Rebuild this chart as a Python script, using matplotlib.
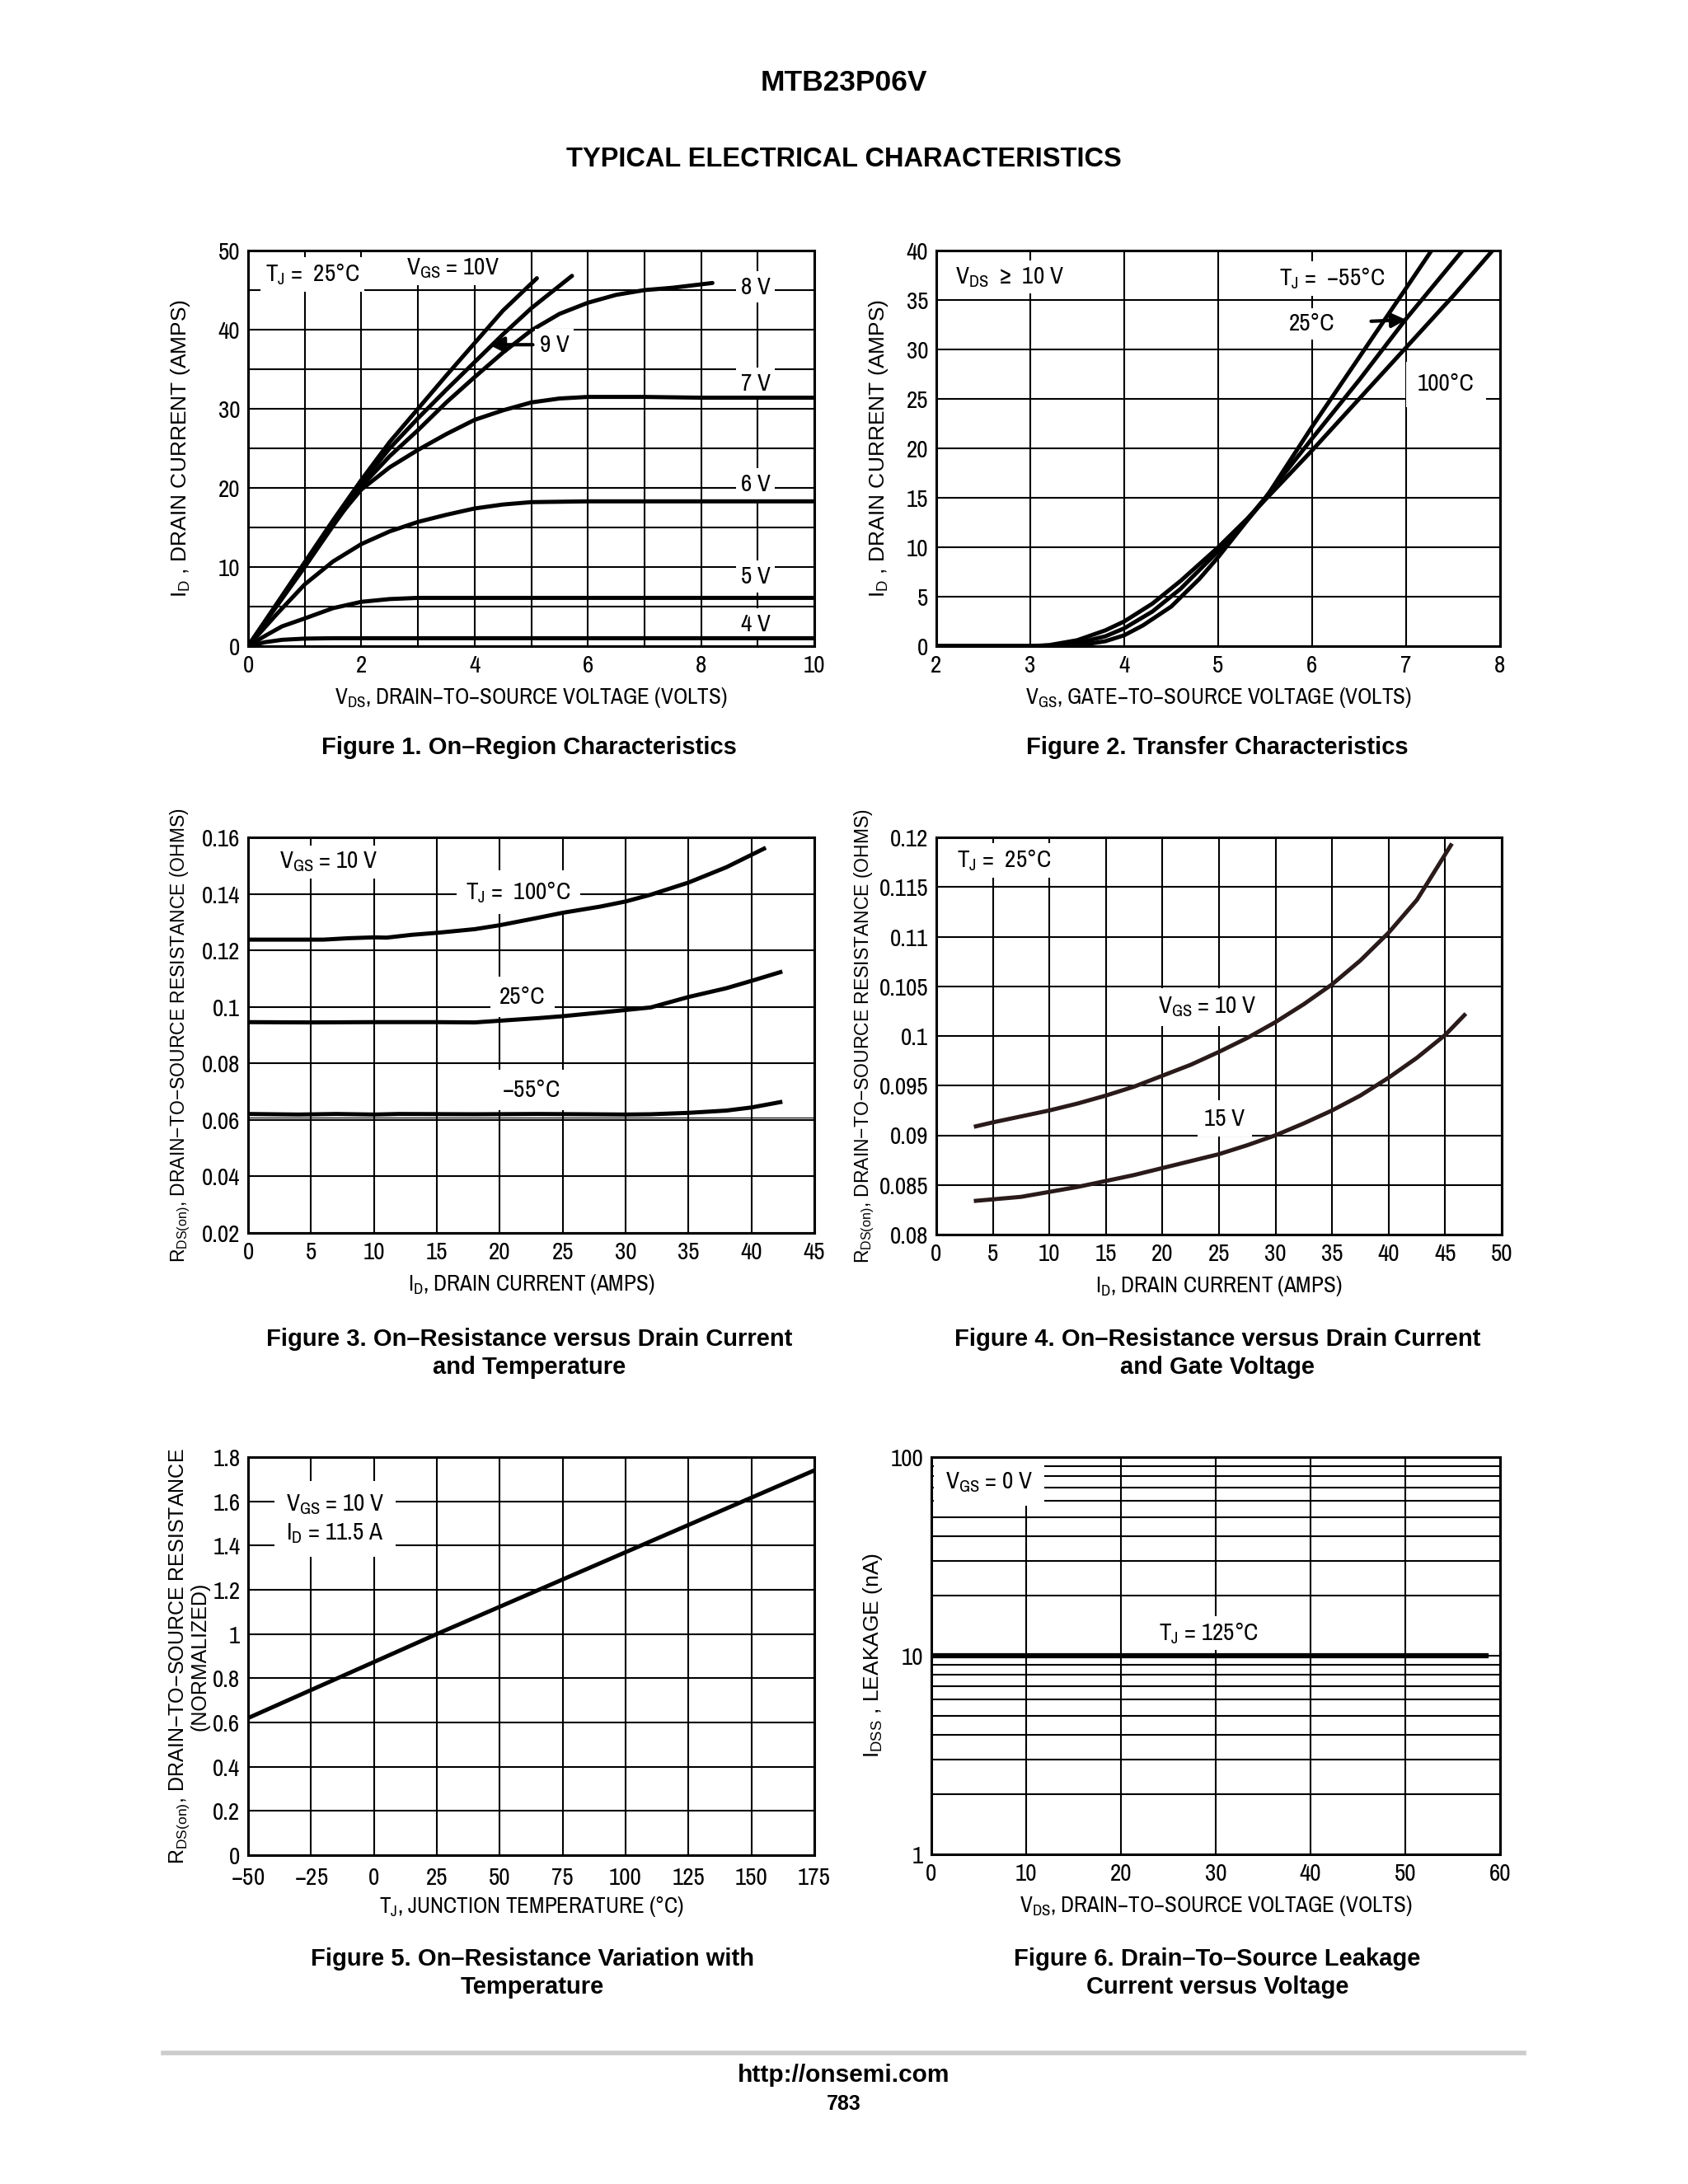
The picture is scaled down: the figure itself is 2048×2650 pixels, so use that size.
import numpy as np
import matplotlib
matplotlib.use("Agg")
import matplotlib.pyplot as plt

# ---- Figure 1: on-region characteristics (VDS vs ID per VGS)
vds_10 = [0, 0.5, 1, 1.5, 2, 2.5, 3, 3.5, 4, 4.5, 5.1]
id_10 = [0, 5.3, 10.6, 15.9, 21.0, 25.8, 30.0, 34.2, 38.3, 42.4, 46.5]
vds_9 = [0, 0.5, 1, 1.5, 2, 2.5, 3, 3.5, 4, 4.5, 5, 5.72]
id_9 = [0, 5.1, 10.3, 15.5, 20.6, 25.0, 28.8, 32.4, 35.9, 39.4, 42.7, 46.8]
vds_8 = [0, 0.5, 1, 1.5, 2, 2.5, 3, 3.5, 4, 4.5, 5, 5.5, 6, 6.5, 7, 7.5, 8.2]
id_8 = [0, 5.0, 10.0, 15.2, 20.2, 24.0, 27.3, 30.8, 34.0, 37.1, 39.9, 42.0, 43.4, 44.4, 45.0, 45.3, 45.9]
vds_7 = [0, 0.5, 1, 1.5, 2, 2.5, 3, 3.5, 4, 4.5, 5, 5.5, 6, 7, 8, 9, 10]
id_7 = [0, 5.2, 10.5, 15.5, 19.8, 22.6, 24.8, 26.8, 28.6, 29.8, 30.8, 31.3, 31.5, 31.5, 31.4, 31.4, 31.4]
vds_6 = [0, 0.5, 1, 1.5, 2, 2.5, 3, 3.5, 4, 4.5, 5, 6, 7, 8, 9, 10]
id_6 = [0, 4.0, 7.8, 10.7, 12.9, 14.5, 15.7, 16.6, 17.4, 17.9, 18.2, 18.3, 18.3, 18.3, 18.3, 18.3]
vds_5 = [0, 0.3, 0.6, 1, 1.5, 2, 2.5, 3, 4, 6, 8, 10]
id_5 = [0, 1.3, 2.5, 3.5, 4.8, 5.6, 5.95, 6.1, 6.1, 6.1, 6.1, 6.1]
vds_4 = [0, 0.3, 0.6, 1, 1.5, 3, 6, 10]
id_4 = [0, 0.5, 0.8, 0.95, 1.0, 1.0, 1.0, 1.0]

# ---- Figure 2: transfer characteristics
vgs_m55 = [2, 3, 3.3, 3.6, 3.8, 4.0, 4.2, 4.5, 4.8, 5.0, 5.3, 5.5, 6.0, 6.5, 7.0, 7.27]
id_m55 = [0, 0, 0.05, 0.2, 0.5, 1.1, 2.1, 4.0, 6.8, 9.0, 12.6, 14.9, 22.2, 29.2, 36.2, 40]
vgs_25 = [2, 3, 3.3, 3.5, 3.8, 4.0, 4.3, 4.6, 5.0, 5.3, 5.5, 6.0, 6.5, 7.0, 7.6]
id_25 = [0, 0, 0.1, 0.3, 1.0, 1.8, 3.5, 5.8, 9.6, 12.7, 15.0, 21.0, 26.9, 33.1, 40]
vgs_100 = [2, 3, 3.2, 3.5, 3.8, 4.0, 4.3, 4.6, 5.0, 5.3, 5.5, 6.0, 6.5, 7.0, 7.5, 7.92]
id_100 = [0, 0, 0.1, 0.6, 1.6, 2.5, 4.3, 6.6, 10.0, 12.8, 14.8, 19.8, 25.0, 30.2, 35.4, 40]

# ---- Figure 3: on-resistance vs drain current and temperature
id3_100 = [0, 3, 6, 8, 10, 11, 13, 15, 18, 20, 23, 25, 28, 30, 32, 35, 38, 41]
r3_100 = [0.1238, 0.1238, 0.1238, 0.1243, 0.1246, 0.1245, 0.1255, 0.1262, 0.1275, 0.1289,
          0.1315, 0.1333, 0.1355, 0.1373, 0.1397, 0.1440, 0.1494, 0.1560]
id3_25 = [0, 5, 10, 15, 18, 20, 23, 25, 28, 30, 32, 35, 38, 40, 42.3]
r3_25 = [0.0946, 0.0945, 0.0946, 0.0946, 0.0945, 0.0951, 0.0960, 0.0967, 0.0980, 0.0989,
         0.0998, 0.1035, 0.1066, 0.1092, 0.1123]
id3_m55 = [0, 4, 7, 10, 12, 18, 23, 27, 30, 32, 35, 38, 40, 42.3]
r3_m55 = [0.0621, 0.0619, 0.0621, 0.0619, 0.0621, 0.0620, 0.0621, 0.0620, 0.0619, 0.0620,
          0.0625, 0.0633, 0.0644, 0.0663]

# ---- Figure 4: on-resistance vs drain current and gate voltage
id4_10 = [3.5, 5, 7.5, 10, 12.5, 15, 17.5, 20, 22.5, 25, 27.5, 30, 32.5, 35, 37.5, 40, 42.5, 45.5]
r4_10 = [0.0909, 0.0913, 0.0919, 0.0925, 0.0932, 0.0940, 0.0949, 0.0960, 0.0971, 0.0984,
         0.0998, 0.1014, 0.1032, 0.1052, 0.1076, 0.1104, 0.1137, 0.1192]
id4_15 = [3.5, 7.5, 10, 12.5, 15, 17.5, 20, 22.5, 25, 27.5, 30, 32.5, 35, 37.5, 40, 42.5, 45, 46.7]
r4_15 = [0.0834, 0.0838, 0.0843, 0.0848, 0.0854, 0.0860, 0.0867, 0.0874, 0.0881, 0.0890,
         0.0900, 0.0912, 0.0925, 0.0940, 0.0958, 0.0978, 0.1001, 0.1021]

# ---- Figure 5: normalized on-resistance vs temperature
tj5 = [-50, 25, 175]
rn5 = [0.62, 1.0, 1.74]

# ---- Figure 6: leakage vs VDS
vds6 = [0, 58.5]
idss6 = [10, 10]

W, H = 2048, 2650
NARROW = ['Archivo Narrow', 'DejaVu Sans']
WIDE = ['Liberation Sans', 'DejaVu Sans']
plt.rcParams['font.family'] = WIDE
plt.rcParams['mathtext.default'] = 'regular'

fig = plt.figure(figsize=(W / 100, H / 100), dpi=100)
fig.patch.set_facecolor('white')

LW = 3.6
GRID_LW = 1.5
TICK_FS = 21
XLAB_FS = 19.5
TXT_FS = 21
WBOX = dict(facecolor='white', edgecolor='none', pad=4)


def make_ax(l, t, r, b):
    return fig.add_axes([l / W, 1 - b / H, (r - l) / W, (b - t) / H])


def style(ax, xlim, ylim, xgrid, ygrid, xticks, yticks, xlabel, ylabel, ylab_x,
          yfs=19, ylog=False):
    ax.set_xlim(*xlim)
    if ylog:
        ax.set_yscale('log')
    ax.set_ylim(*ylim)
    for gx in xgrid:
        ax.axvline(gx, color='black', lw=GRID_LW, zorder=1)
    for gy in ygrid:
        ax.axhline(gy, color='black', lw=GRID_LW, zorder=1)
    ax.set_xticks(xticks)
    ax.set_yticks(yticks)
    ax.minorticks_off()
    ax.tick_params(length=0, pad=7, labelsize=TICK_FS)
    for lab in ax.get_xticklabels() + ax.get_yticklabels():
        lab.set_family(NARROW)
    for s in ax.spines.values():
        s.set_linewidth(2.2)
    ax.set_xlabel(xlabel, fontsize=XLAB_FS, family=NARROW)
    ax.xaxis.set_label_coords(0.5, -0.10)
    ax.set_ylabel(ylabel, fontsize=yfs, family=WIDE, linespacing=0.9)
    ax.yaxis.set_label_coords(ylab_x, 0.5)


def caption(x, y, txt):
    fig.text(x / W, 1 - y / H, txt, ha='center', va='center', fontsize=21,
             fontweight='bold', linespacing=1.25)


# Header
fig.text(1024 / W, 1 - 101 / H, 'MTB23P06V', ha='center', va='center', fontsize=25.5, fontweight='bold')
fig.text(1024 / W, 1 - 194 / H, 'TYPICAL ELECTRICAL CHARACTERISTICS', ha='center', va='center',
         fontsize=23.5, fontweight='bold')

# ---------------- Figure 1
ax1 = make_ax(301, 304, 988, 784)
style(ax1, (0, 10), (0, 50), range(0, 11), range(0, 51, 5), range(0, 11, 2), range(0, 51, 10),
      r'V$_{DS}$, DRAIN$-$TO$-$SOURCE VOLTAGE (VOLTS)', r'I$_D$ , DRAIN CURRENT (AMPS)', -0.099)
for xs, ys in [(vds_10, id_10), (vds_9, id_9), (vds_8, id_8), (vds_7, id_7),
               (vds_6, id_6), (vds_5, id_5), (vds_4, id_4)]:
    ax1.plot(xs, ys, color='black', lw=LW, zorder=3, solid_capstyle='round')
ax1.text(0.3, 47, r'T$_J$ =  25°C', fontsize=TXT_FS, family=NARROW, va='center', bbox=WBOX, zorder=2)
ax1.text(2.8, 47.7, r'V$_{GS}$ = 10V', fontsize=TXT_FS, family=NARROW, va='center', bbox=WBOX, zorder=2)
for yv, lab in [(45.4, '8 V'), (33.2, '7 V'), (20.5, '6 V'), (8.8, '5 V'), (2.8, '4 V')]:
    ax1.text(8.7, yv, lab, fontsize=TXT_FS, family=NARROW, va='center', bbox=WBOX, zorder=2)
ax1.annotate('9 V', xy=(4.25, 38.1), xytext=(5.15, 38.1), fontsize=TXT_FS, family=NARROW, va='center',
             bbox=WBOX, zorder=4,
             arrowprops=dict(arrowstyle='-|>', color='black', lw=3, mutation_scale=28, shrinkA=2, shrinkB=0))

# ---------------- Figure 2
ax2 = make_ax(1136, 304, 1820, 784)
style(ax2, (2, 8), (0, 40), range(2, 9), range(0, 41, 5), range(2, 9), range(0, 41, 5),
      r'V$_{GS}$, GATE$-$TO$-$SOURCE VOLTAGE (VOLTS)', r'I$_D$ , DRAIN CURRENT (AMPS)', -0.082)
for xs, ys in [(vgs_m55, id_m55), (vgs_25, id_25), (vgs_100, id_100)]:
    ax2.plot(xs, ys, color='black', lw=LW, zorder=3)
ax2.text(2.2, 37.3, r'V$_{DS}$ $\geq$ 10 V', fontsize=TXT_FS, family=NARROW, va='center', bbox=WBOX, zorder=2)
ax2.text(5.65, 37.2, r'T$_J$ =  $-$55°C', fontsize=TXT_FS, family=NARROW, va='center', bbox=WBOX, zorder=2)
ax2.annotate('25°C', xy=(7.0, 33.0), xytext=(5.75, 32.6), fontsize=TXT_FS, family=NARROW, va='center',
             bbox=WBOX, zorder=2,
             arrowprops=dict(arrowstyle='-|>', color='black', lw=3, mutation_scale=26,
                             shrinkA=28, shrinkB=0))
ax2.text(7.12, 26.5, '100°C', fontsize=TXT_FS, family=NARROW, va='center', bbox=dict(facecolor='white',
         edgecolor='none', pad=10), zorder=2)

# ---------------- Figure 3
ax3 = make_ax(301, 1016, 988, 1496)
style(ax3, (0, 45), (0.02, 0.16), range(0, 46, 5), np.arange(0.02, 0.161, 0.02), range(0, 46, 5),
      [0.02, 0.04, 0.06, 0.08, 0.1, 0.12, 0.14, 0.16],
      r'I$_D$, DRAIN CURRENT (AMPS)', r'R$_{DS(on)}$, DRAIN$-$TO$-$SOURCE RESISTANCE (OHMS)', -0.099,
      yfs=16.5)
ax3.set_yticklabels(['0.02', '0.04', '0.06', '0.08', '0.1', '0.12', '0.14', '0.16'], family=NARROW)
ax3.axhline(0.0609, color='black', lw=0.8, zorder=1)
for xs, ys in [(id3_100, r3_100), (id3_25, r3_25), (id3_m55, r3_m55)]:
    ax3.plot(xs, ys, color='black', lw=LW, zorder=3)
ax3.text(2.5, 0.1513, r'V$_{GS}$ = 10 V', fontsize=TXT_FS, family=NARROW, va='center', bbox=WBOX, zorder=2)
ax3.text(21.5, 0.1405, r'T$_J$ =  100°C', fontsize=TXT_FS, family=NARROW, va='center', ha='center',
         bbox=dict(facecolor='white', edgecolor='none', pad=8), zorder=2)
ax3.text(21.8, 0.1035, '25°C', fontsize=TXT_FS, family=NARROW, va='center', ha='center',
         bbox=dict(facecolor='white', edgecolor='none', pad=8), zorder=2)
ax3.text(22.5, 0.0705, '$-$55°C', fontsize=TXT_FS, family=NARROW, va='center', ha='center',
         bbox=dict(facecolor='white', edgecolor='none', pad=8), zorder=2)

# ---------------- Figure 4
ax4 = make_ax(1136, 1016, 1822, 1498)
style(ax4, (0, 50), (0.08, 0.12), range(0, 51, 5), np.arange(0.08, 0.1201, 0.005), range(0, 51, 5),
      np.arange(0.08, 0.1201, 0.005),
      r'I$_D$, DRAIN CURRENT (AMPS)', r'R$_{DS(on)}$, DRAIN$-$TO$-$SOURCE RESISTANCE (OHMS)', -0.107,
      yfs=16.5)
ax4.set_yticklabels(['0.08', '0.085', '0.09', '0.095', '0.1', '0.105', '0.11', '0.115', '0.12'], family=NARROW)
ax4.plot(id4_10, r4_10, color='#2a1a1a', lw=LW, zorder=3)
ax4.plot(id4_15, r4_15, color='#2a1a1a', lw=LW, zorder=3)
ax4.text(1.8, 0.1177, r'T$_J$ =  25°C', fontsize=TXT_FS, family=NARROW, va='center', bbox=WBOX, zorder=2)
ax4.text(19.6, 0.1029, r'V$_{GS}$ = 10 V', fontsize=TXT_FS, family=NARROW, va='center',
         bbox=dict(facecolor='white', edgecolor='none', pad=6), zorder=2)
ax4.text(23.7, 0.0917, '15 V', fontsize=TXT_FS, family=NARROW, va='center',
         bbox=dict(facecolor='white', edgecolor='none', pad=6), zorder=2)

# ---------------- Figure 5
ax5 = make_ax(301, 1768, 988, 2251)
style(ax5, (-50, 175), (0, 1.8), range(-50, 176, 25), np.arange(0, 1.81, 0.2), range(-50, 176, 25),
      np.arange(0, 1.81, 0.2),
      r'T$_J$, JUNCTION TEMPERATURE (°C)',
      'R$_{DS(on)}$, DRAIN$-$TO$-$SOURCE RESISTANCE\n(NORMALIZED)', -0.068, yfs=18)
ax5.set_xticklabels(['$-$50', '$-$25', '0', '25', '50', '75', '100', '125', '150', '175'], family=NARROW)
ax5.set_yticklabels(['0', '0.2', '0.4', '0.6', '0.8', '1', '1.2', '1.4', '1.6', '1.8'], family=NARROW)
ax5.tick_params(axis='x', pad=10)
ax5.plot(tj5, rn5, color='black', lw=LW, zorder=3)
ax5.text(-35, 1.52, r'V$_{GS}$ = 10 V' + '\n' + r'I$_D$ = 11.5 A', fontsize=TXT_FS, family=NARROW,
         va='center', linespacing=1.3, bbox=dict(facecolor='white', edgecolor='none', pad=10), zorder=2)

# ---------------- Figure 6
ax6 = make_ax(1130, 1768, 1820, 2250)
ygrid6 = [1, 2, 3, 4, 5, 6, 7, 8, 9, 10, 20, 30, 40, 50, 60, 70, 80, 90, 100]
style(ax6, (0, 60), (1, 100), range(0, 61, 10), ygrid6, range(0, 61, 10), [1, 10, 100],
      r'V$_{DS}$, DRAIN$-$TO$-$SOURCE VOLTAGE (VOLTS)', r'I$_{DSS}$ , LEAKAGE (nA)', -0.082, ylog=True)
ax6.set_yticklabels(['1', '10', '100'], family=NARROW)
ax6.minorticks_off()
ax6.plot(vds6, idss6, color='black', lw=4.5, zorder=3)
ax6.text(1.5, 75, r'V$_{GS}$ = 0 V', fontsize=TXT_FS, family=NARROW, va='center',
         bbox=dict(facecolor='white', edgecolor='none', pad=10), zorder=2)
ax6.text(24, 13.0, r'T$_J$ = 125°C', fontsize=TXT_FS, family=NARROW, va='center', bbox=WBOX, zorder=2)

# Captions
caption(642, 907, 'Figure 1. On\u2013Region Characteristics')
caption(1477, 907, 'Figure 2. Transfer Characteristics')
caption(642, 1642, 'Figure 3. On\u2013Resistance versus Drain Current\nand Temperature')
caption(1477, 1642, 'Figure 4. On\u2013Resistance versus Drain Current\nand Gate Voltage')
caption(646, 2394, 'Figure 5. On\u2013Resistance Variation with\nTemperature')
caption(1477, 2394, 'Figure 6. Drain\u2013To\u2013Source Leakage\nCurrent versus Voltage')

# Footer
fig.add_artist(plt.Line2D([198 / W, 1849 / W], [1 - 2491 / H, 1 - 2491 / H], color='#cccccc', lw=4))
fig.text(1024 / W, 1 - 2518 / H, 'http://onsemi.com', ha='center', va='center', fontsize=21.5, fontweight='bold')
fig.text(1024 / W, 1 - 2553 / H, '783', ha='center', va='center', fontsize=18, fontweight='bold')

fig.savefig('out.png', dpi=100, facecolor='white')
